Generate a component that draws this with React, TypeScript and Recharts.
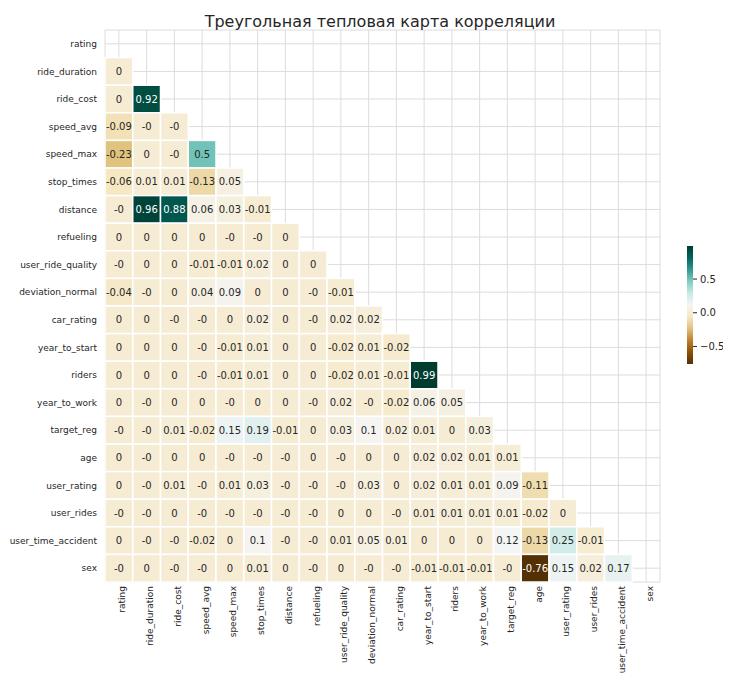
import { ScatterChart, Scatter, XAxis, YAxis, CartesianGrid } from "recharts";

const names = [
  "rating", "ride_duration", "ride_cost", "speed_avg", "speed_max", "stop_times", "distance",
  "refueling", "user_ride_quality", "deviation_normal", "car_rating", "year_to_start", "riders",
  "year_to_work", "target_reg", "age", "user_rating", "user_rides", "user_time_accident", "sex",
];

// lower triangle, row i holds correlations with columns 0..i-1
const rows: number[][] = [
  [],
  [0],
  [0, 0.92],
  [-0.09, -0, -0],
  [-0.23, 0, -0, 0.5],
  [-0.06, 0.01, 0.01, -0.13, 0.05],
  [-0, 0.96, 0.88, 0.06, 0.03, -0.01],
  [0, 0, 0, 0, -0, -0, 0],
  [-0, 0, 0, -0.01, -0.01, 0.02, 0, 0],
  [-0.04, -0, 0, 0.04, 0.09, 0, 0, -0, -0.01],
  [0, 0, -0, -0, 0, 0.02, 0, -0, 0.02, 0.02],
  [0, 0, 0, -0, -0.01, 0.01, 0, 0, -0.02, 0.01, -0.02],
  [0, 0, 0, -0, -0.01, 0.01, 0, 0, -0.02, 0.01, -0.01, 0.99],
  [0, -0, 0, 0, -0, 0, 0, -0, 0.02, -0, -0.02, 0.06, 0.05],
  [-0, -0, 0.01, -0.02, 0.15, 0.19, -0.01, 0, 0.03, 0.1, 0.02, 0.01, 0, 0.03],
  [0, -0, 0, 0, -0, -0, -0, 0, -0, 0, 0, 0.02, 0.02, 0.01, 0.01],
  [0, -0, 0.01, -0, 0.01, 0.03, -0, -0, -0, 0.03, 0, 0.02, 0.01, 0.01, 0.09, -0.11],
  [-0, -0, 0, -0, -0, -0, -0, -0, 0, 0, -0, 0.01, 0.01, 0.01, 0.01, -0.02, 0],
  [0, -0, -0, -0.02, 0, 0.1, -0, -0, 0.01, 0.05, 0.01, 0, 0, 0, 0.12, -0.13, 0.25, -0.01],
  [-0, 0, -0, -0, 0, 0.01, 0, -0, 0, -0, -0, -0.01, -0.01, -0.01, -0, -0.76, 0.15, 0.02, 0.17],
];

const vmin = -0.76;
const vmax = 0.99;
const brbg = ["#543005", "#8c510a", "#bf812d", "#dfc27d", "#f6e8c3", "#f5f5f5", "#c7eae5", "#80cdc1", "#35978f", "#01665e", "#003c30"];

const hex = (c: string) => [1, 3, 5].map((k) => parseInt(c.slice(k, k + 2), 16));
function colorFor(v: number) {
  const t = Math.min(1, Math.max(0, (v - vmin) / (vmax - vmin))) * 10;
  const i = Math.min(9, Math.floor(t));
  const f = t - i;
  const a = hex(brbg[i]);
  const b = hex(brbg[i + 1]);
  const m = a.map((x, k) => Math.round(x + (b[k] - x) * f));
  return { fill: `rgb(${m.join(",")})`, dark: t < 1.5 || t > 8.3 };
}
const fmt = (v: number) => (Object.is(v, -0) ? "-0" : String(v));

const data = rows.flatMap((r, i) => r.map((v, j) => ({ x: j, y: i, v })));

const W = 715;
const H = 673;
const LEFT = 97;
const TOP = 22;
const PW = 555;
const PH = 552;
const cw = PW / 20;
const ch = PH / 20;

function Cell(props: any) {
  const { cx, cy, payload } = props;
  const c = colorFor(payload.v);
  return (
    <g>
      <rect x={cx - cw / 2} y={cy - ch / 2} width={cw} height={ch} fill={c.fill} stroke="#fff" strokeWidth={1.5} />
      <text x={cx} y={cy} dy="0.35em" textAnchor="middle" fontSize={10} fill={c.dark ? "#fff" : "#262626"}>
        {fmt(payload.v)}
      </text>
    </g>
  );
}

const ticks = names.map((_, i) => i);
const cbTicks = [0.5, 0, -0.5];

export default function App() {
  const cbTop = 238;
  const cbH = 118;
  const cbY = (v: number) => cbTop + ((vmax - v) / (vmax - vmin)) * cbH;
  return (
    <div style={{ position: "relative", width: W, height: H, fontFamily: "DejaVu Sans" }}>
      <ScatterChart width={W} height={H} margin={{ top: TOP, right: W - LEFT - PW, bottom: 0, left: 0 }}>
        <CartesianGrid stroke="#dcdcdc" />
        <XAxis
          type="number"
          dataKey="x"
          domain={[-0.5, 19.5]}
          ticks={ticks}
          interval={0}
          tickFormatter={(i: number) => names[i]}
          angle={-90}
          textAnchor="end"
          height={H - TOP - PH}
          tick={{ fontSize: 9, fill: "#262626", dy: -4 }}
          tickLine={false}
          axisLine={false}
        />
        <YAxis
          type="number"
          dataKey="y"
          domain={[-0.5, 19.5]}
          reversed
          ticks={ticks}
          interval={0}
          tickFormatter={(i: number) => names[i]}
          width={LEFT}
          tick={{ fontSize: 9, fill: "#262626" }}
          tickLine={false}
          axisLine={false}
        />
        <Scatter data={data} shape={Cell} isAnimationActive={false} />
      </ScatterChart>
      <svg width={W} height={H} style={{ position: "absolute", left: 0, top: 0, pointerEvents: "none" }}>
        <defs>
          <linearGradient id="cb" x1="0" y1="1" x2="0" y2="0">
            {brbg.map((c, i) => (
              <stop key={i} offset={i / 10} stopColor={c} />
            ))}
          </linearGradient>
        </defs>
        <text x={372} y={8} dy="0.7em" textAnchor="middle" fontSize={16} fill="#262626">
          Треугольная тепловая карта корреляции
        </text>
        <rect x={679} y={cbTop} width={6} height={cbH} fill="url(#cb)" />
        {cbTicks.map((t) => (
          <g key={t}>
            <line x1={685} x2={689} y1={cbY(t)} y2={cbY(t)} stroke="#262626" />
            <text x={692} y={cbY(t)} dy="0.35em" fontSize={10} fill="#262626">
              {t === 0 ? "0.0" : t < 0 ? "\u22120.5" : "0.5"}
            </text>
          </g>
        ))}
      </svg>
    </div>
  );
}
